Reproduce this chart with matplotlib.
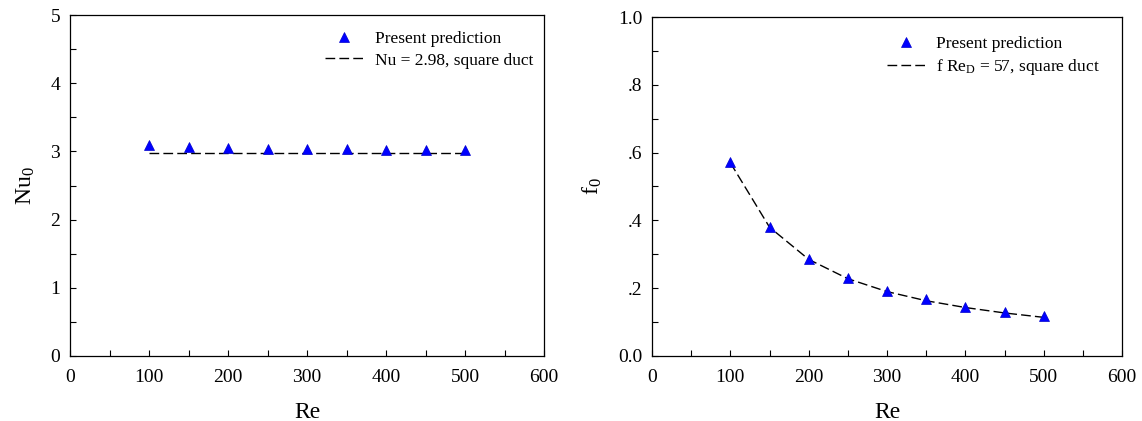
import matplotlib
matplotlib.use("Agg")
import matplotlib.pyplot as plt
from matplotlib.ticker import MultipleLocator, FixedLocator, FixedFormatter

plt.rcParams['font.family'] = ['Liberation Serif', 'DejaVu Serif']
plt.rcParams['mathtext.fontset'] = 'custom'
plt.rcParams['mathtext.rm'] = 'Liberation Serif'
plt.rcParams['mathtext.it'] = 'Liberation Serif'

# Data
re_vals = [100, 150, 200, 250, 300, 350, 400, 450, 500]
nu_pred = [3.09, 3.06, 3.05, 3.04, 3.03, 3.03, 3.02, 3.02, 3.02]
nu_ref_x = [100, 500]
nu_ref = [2.98, 2.98]
f_pred = [0.572, 0.381, 0.287, 0.230, 0.192, 0.168, 0.145, 0.130, 0.117]
f_ref = [0.570, 0.380, 0.285, 0.228, 0.190, 0.163, 0.143, 0.127, 0.114]

f_ticks = [0.0, 0.2, 0.4, 0.6, 0.8, 1.0]
f_tick_labels = ["0.0", ".2", ".4", ".6", ".8", "1.0"]

W, H = 1142, 421
fig = plt.figure(figsize=(W / 100, H / 100), dpi=100)
ax1 = fig.add_axes([70 / W, 1 - 356 / H, 474 / W, 341 / H])
ax2 = fig.add_axes([652 / W, 1 - 356 / H, 470 / W, 339 / H])

tri = dict(marker='^', color='#0000ff', markersize=7, linestyle='none',
           markeredgecolor='#0000cc', markeredgewidth=0.5)
dash = dict(color='black', linestyle=(0, (7, 3)), linewidth=1.0)

# Left panel: Nusselt number
ax1.plot(nu_ref_x, nu_ref, label='Nu = 2.98, square duct', **dash)
ax1.plot(re_vals, nu_pred, label='Present prediction', **tri)
ax1.set_xlim(0, 600)
ax1.set_ylim(0, 5)
ax1.xaxis.set_major_locator(MultipleLocator(100))
ax1.xaxis.set_minor_locator(MultipleLocator(50))
ax1.yaxis.set_major_locator(MultipleLocator(1))
ax1.yaxis.set_minor_locator(MultipleLocator(0.5))
ax1.set_ylabel(r'Nu$_0$', fontsize=17, labelpad=10)

# Right panel: friction factor
ax2.plot(re_vals, f_ref, label=r'f Re$_\mathrm{D}$ = 57, square duct', **dash)
ax2.plot(re_vals, f_pred, label='Present prediction', **tri)
ax2.set_xlim(0, 600)
ax2.set_ylim(0, 1.0)
ax2.xaxis.set_major_locator(MultipleLocator(100))
ax2.xaxis.set_minor_locator(MultipleLocator(50))
ax2.yaxis.set_major_locator(FixedLocator(f_ticks))
ax2.yaxis.set_major_formatter(FixedFormatter(f_tick_labels))
ax2.yaxis.set_minor_locator(MultipleLocator(0.1))
ax2.set_ylabel(r'f$_0$', fontsize=17, labelpad=10)

legend_anchor = {ax1: (0.977, 0.953), ax2: (0.953, 0.944)}

for ax in (ax1, ax2):
    ax.set_xlabel('Re', fontsize=17, labelpad=12)
    ax.tick_params(which='both', direction='in', labelsize=14, top=False, right=False)
    ax.tick_params(which='both', length=4, width=0.8)
    ax.tick_params(axis='x', pad=9)
    ax.tick_params(axis='y', pad=7)
    for s in ax.spines.values():
        s.set_linewidth(0.9)
    h, l = ax.get_legend_handles_labels()
    ax.legend(h[::-1], l[::-1], loc='upper right', frameon=False, fontsize=12.5,
              handlelength=2.2, handletextpad=0.65, labelspacing=0.3,
              borderpad=0, borderaxespad=0,
              bbox_to_anchor=legend_anchor[ax])

fig.savefig('out.png', dpi=100)
